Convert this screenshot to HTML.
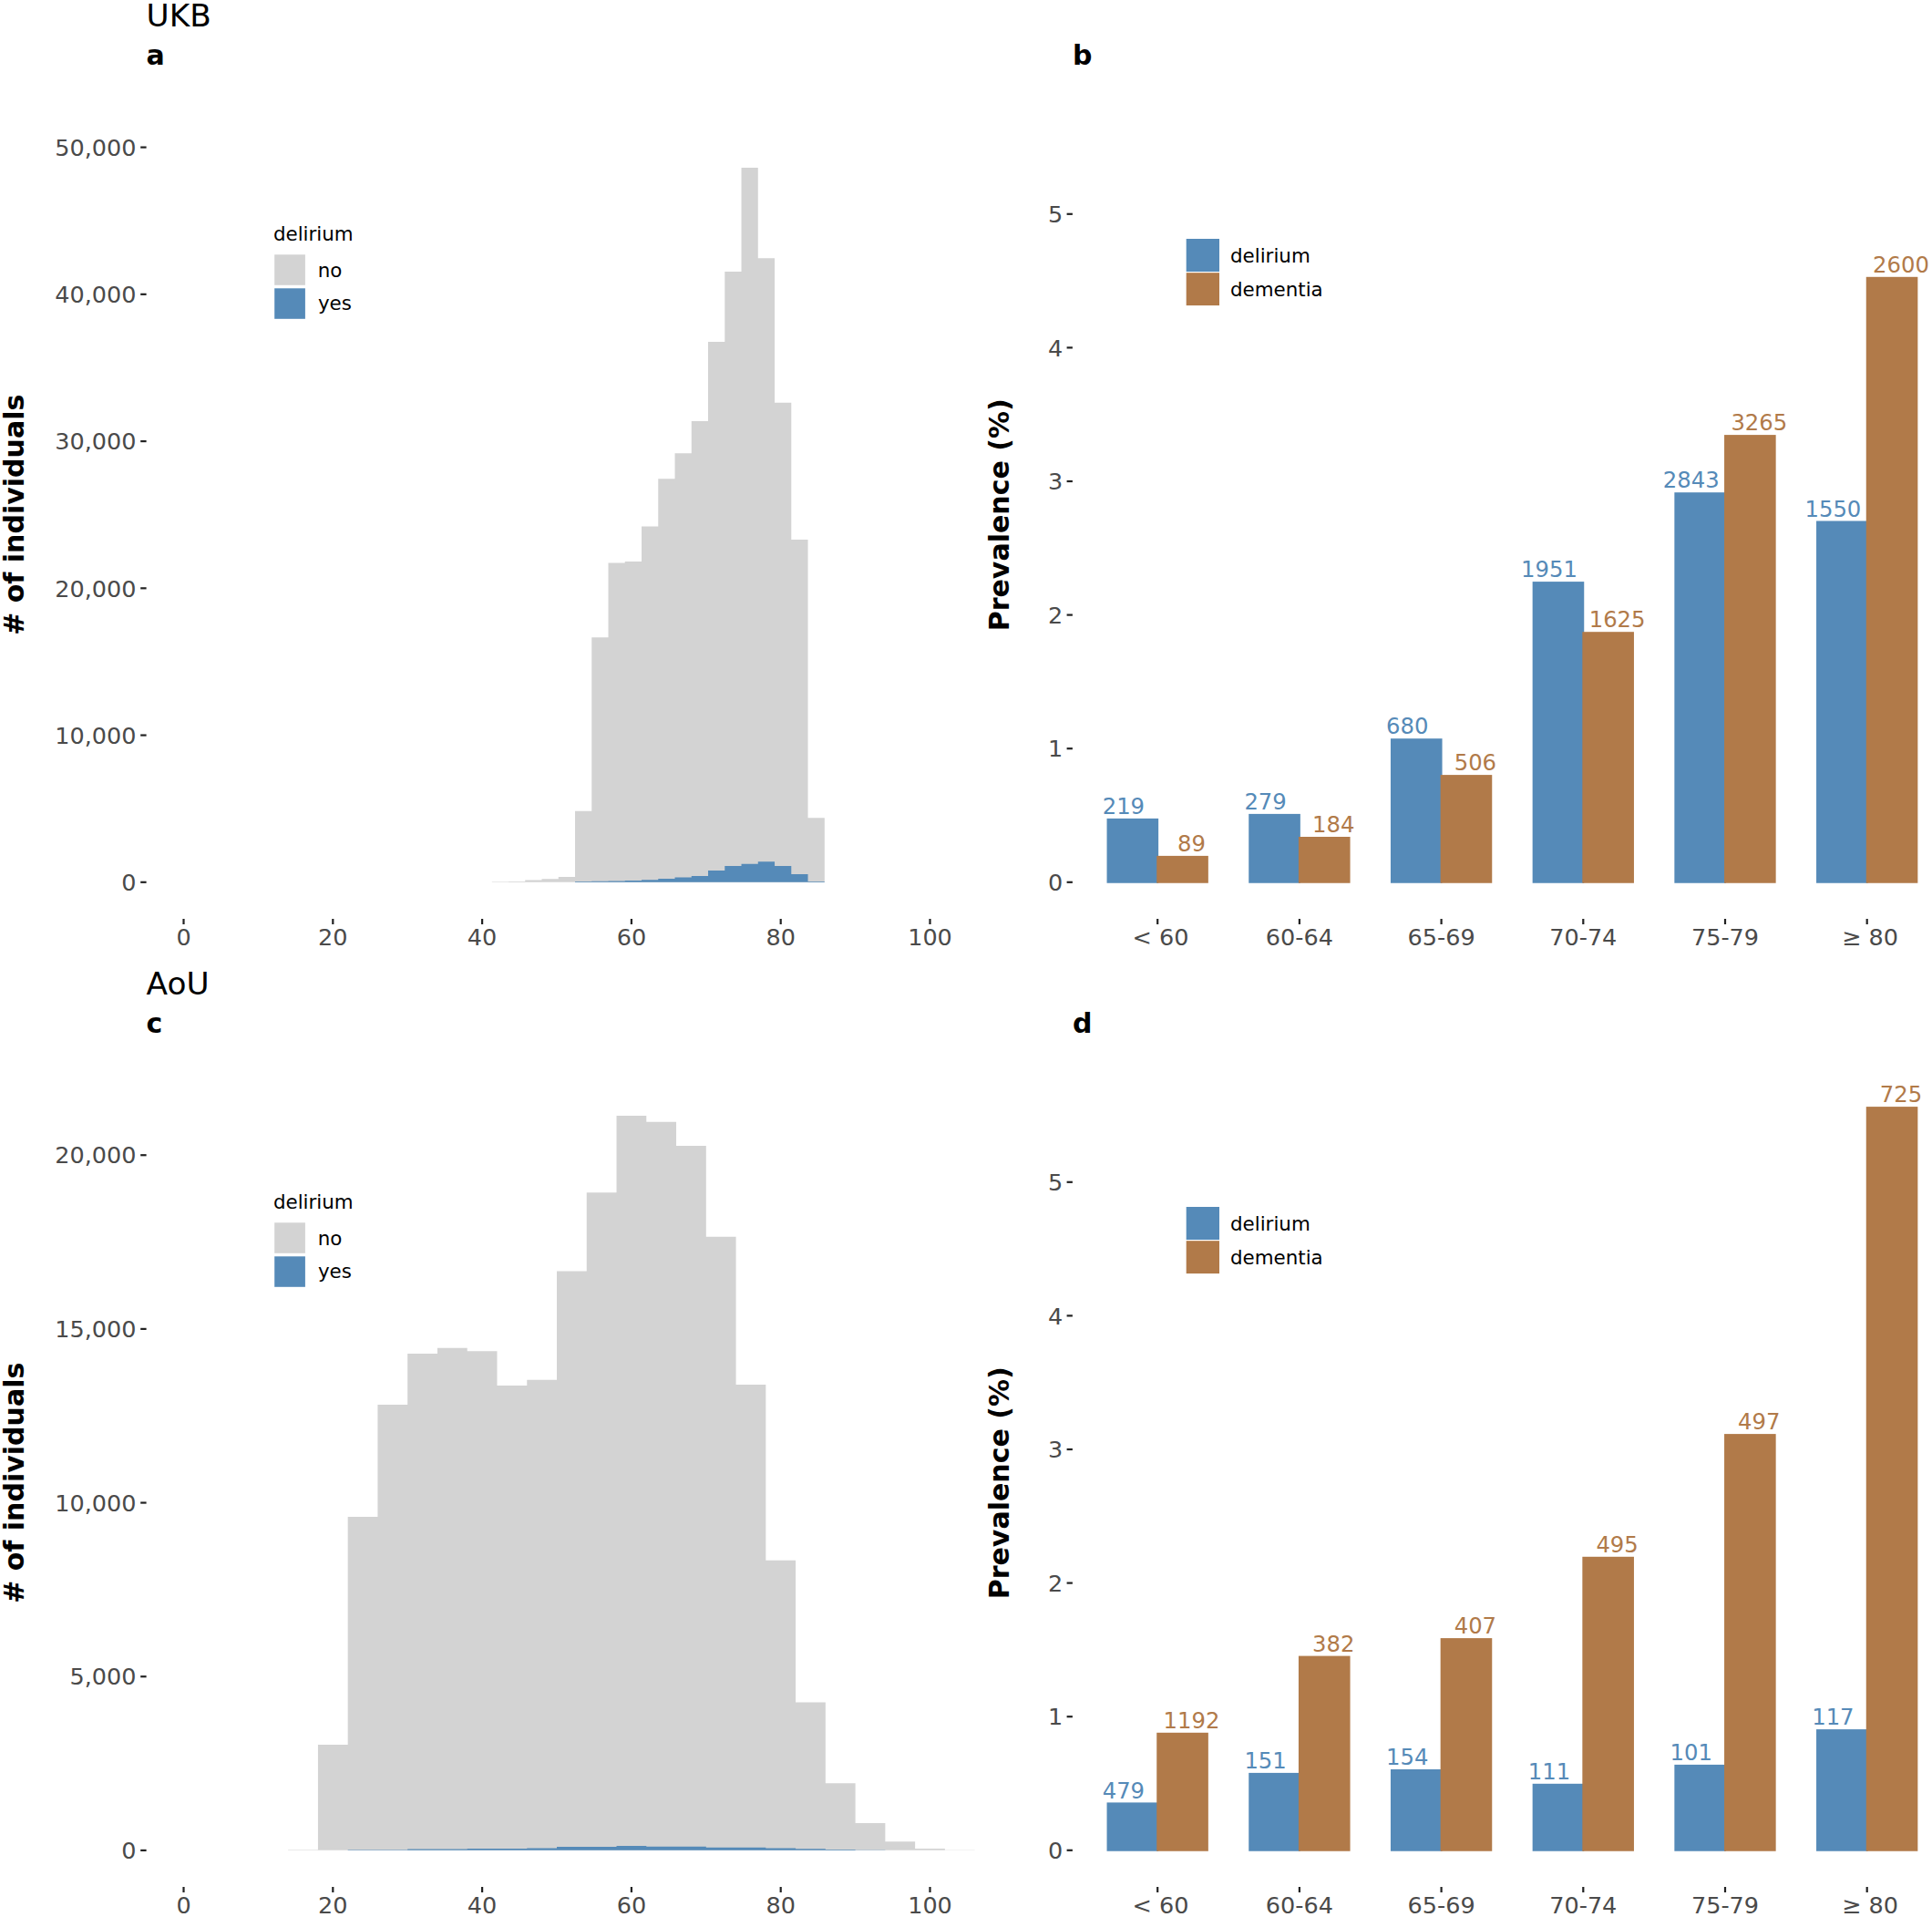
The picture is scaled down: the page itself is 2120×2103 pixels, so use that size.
<!DOCTYPE html>
<html lang="en"><head><meta charset="utf-8"><title>UKB / AoU delirium and dementia prevalence</title>
<style>
html,body{margin:0;padding:0;background:#fff}
body{width:2120px;height:2103px;overflow:hidden}
svg{display:block}
svg text{font-family:"DejaVu Sans","Liberation Sans",sans-serif;font-stretch:normal}
</style></head><body>
<svg width="2120" height="2103" viewBox="0 0 2120 2103">
<rect width="2120" height="2103" fill="#fff"/>
<text x="160.55" y="29.15" font-size="34.3" fill="#000">UKB</text>
<text x="160.4" y="70.5" font-size="30.0" font-weight="bold" fill="#000">a</text>
<text transform="translate(26.0 564.8) rotate(-90)" text-anchor="middle" font-size="30.0" font-weight="bold" fill="#000"># of individuals</text>
<line x1="154.2" x2="160.6" y1="967.8" y2="967.8" stroke="#222222" stroke-width="2.2"/>
<text x="149.5" y="977.05" text-anchor="end" font-size="25.5" fill="#4a4a4a">0</text>
<line x1="154.2" x2="160.6" y1="806.56" y2="806.56" stroke="#222222" stroke-width="2.2"/>
<text x="149.5" y="815.81" text-anchor="end" font-size="25.5" fill="#4a4a4a">10,000</text>
<line x1="154.2" x2="160.6" y1="645.32" y2="645.32" stroke="#222222" stroke-width="2.2"/>
<text x="149.5" y="654.57" text-anchor="end" font-size="25.5" fill="#4a4a4a">20,000</text>
<line x1="154.2" x2="160.6" y1="484.08" y2="484.08" stroke="#222222" stroke-width="2.2"/>
<text x="149.5" y="493.33" text-anchor="end" font-size="25.5" fill="#4a4a4a">30,000</text>
<line x1="154.2" x2="160.6" y1="322.84" y2="322.84" stroke="#222222" stroke-width="2.2"/>
<text x="149.5" y="332.09" text-anchor="end" font-size="25.5" fill="#4a4a4a">40,000</text>
<line x1="154.2" x2="160.6" y1="161.6" y2="161.6" stroke="#222222" stroke-width="2.2"/>
<text x="149.5" y="170.85" text-anchor="end" font-size="25.5" fill="#4a4a4a">50,000</text>
<line x1="201.5" x2="201.5" y1="1008" y2="1014" stroke="#222222" stroke-width="2.2"/>
<text x="201.5" y="1037" text-anchor="middle" font-size="25.5" fill="#4a4a4a">0</text>
<line x1="365.3" x2="365.3" y1="1008" y2="1014" stroke="#222222" stroke-width="2.2"/>
<text x="365.3" y="1037" text-anchor="middle" font-size="25.5" fill="#4a4a4a">20</text>
<line x1="529.1" x2="529.1" y1="1008" y2="1014" stroke="#222222" stroke-width="2.2"/>
<text x="529.1" y="1037" text-anchor="middle" font-size="25.5" fill="#4a4a4a">40</text>
<line x1="692.9" x2="692.9" y1="1008" y2="1014" stroke="#222222" stroke-width="2.2"/>
<text x="692.9" y="1037" text-anchor="middle" font-size="25.5" fill="#4a4a4a">60</text>
<line x1="856.7" x2="856.7" y1="1008" y2="1014" stroke="#222222" stroke-width="2.2"/>
<text x="856.7" y="1037" text-anchor="middle" font-size="25.5" fill="#4a4a4a">80</text>
<line x1="1020.5" x2="1020.5" y1="1008" y2="1014" stroke="#222222" stroke-width="2.2"/>
<text x="1020.5" y="1037" text-anchor="middle" font-size="25.5" fill="#4a4a4a">100</text>
<path d="M539.74 967.7 V967.2 H557.99 V966.9 H576.24 V965.6 H594.49 V964.2 H612.75 V962.1 H631 V889.7 H649.25 V699.3 H667.51 V617.5 H685.76 V616.1 H704.01 V577.6 H722.26 V525.3 H740.52 V497.3 H758.77 V462.1 H777.02 V375 H795.28 V298.1 H813.53 V183.9 H831.78 V283.2 H850.04 V441.7 H868.29 V591.9 H886.54 V897.2 H904.8 V967.7 Z" fill="#d3d3d3"/>
<path d="M631 967.7 V967.1 H649.25 V966.7 H667.51 V966.5 H685.76 V966.1 H704.01 V965.2 H722.26 V964 H740.52 V962.4 H758.77 V960.9 H777.02 V954.9 H795.28 V949.9 H813.53 V947.8 H831.78 V945.3 H850.04 V950.1 H868.29 V959.1 H886.54 V967 H904.8 V967.7 Z" fill="#558ab8"/>
<text x="299.95" y="263.55" font-size="21.4" fill="#000">delirium</text>
<rect x="301.2" y="279.3" width="33.7" height="33.5" fill="#d3d3d3"/>
<rect x="301.2" y="316.3" width="33.7" height="33.5" fill="#558ab8"/>
<text x="348.65" y="303.95" font-size="21.4" fill="#000">no</text>
<text x="348.9" y="340.1" font-size="21.4" fill="#000">yes</text>
<text x="160.55" y="1091.15" font-size="34.3" fill="#000">AoU</text>
<text x="160.4" y="1132.5" font-size="30.0" font-weight="bold" fill="#000">c</text>
<text transform="translate(26.0 1626.8) rotate(-90)" text-anchor="middle" font-size="30.0" font-weight="bold" fill="#000"># of individuals</text>
<line x1="154.2" x2="160.6" y1="2029.9" y2="2029.9" stroke="#222222" stroke-width="2.2"/>
<text x="149.5" y="2039.15" text-anchor="end" font-size="25.5" fill="#4a4a4a">0</text>
<line x1="154.2" x2="160.6" y1="1839.23" y2="1839.23" stroke="#222222" stroke-width="2.2"/>
<text x="149.5" y="1848.48" text-anchor="end" font-size="25.5" fill="#4a4a4a">5,000</text>
<line x1="154.2" x2="160.6" y1="1648.56" y2="1648.56" stroke="#222222" stroke-width="2.2"/>
<text x="149.5" y="1657.81" text-anchor="end" font-size="25.5" fill="#4a4a4a">10,000</text>
<line x1="154.2" x2="160.6" y1="1457.89" y2="1457.89" stroke="#222222" stroke-width="2.2"/>
<text x="149.5" y="1467.14" text-anchor="end" font-size="25.5" fill="#4a4a4a">15,000</text>
<line x1="154.2" x2="160.6" y1="1267.22" y2="1267.22" stroke="#222222" stroke-width="2.2"/>
<text x="149.5" y="1276.47" text-anchor="end" font-size="25.5" fill="#4a4a4a">20,000</text>
<line x1="201.5" x2="201.5" y1="2070" y2="2076" stroke="#222222" stroke-width="2.2"/>
<text x="201.5" y="2099" text-anchor="middle" font-size="25.5" fill="#4a4a4a">0</text>
<line x1="365.3" x2="365.3" y1="2070" y2="2076" stroke="#222222" stroke-width="2.2"/>
<text x="365.3" y="2099" text-anchor="middle" font-size="25.5" fill="#4a4a4a">20</text>
<line x1="529.1" x2="529.1" y1="2070" y2="2076" stroke="#222222" stroke-width="2.2"/>
<text x="529.1" y="2099" text-anchor="middle" font-size="25.5" fill="#4a4a4a">40</text>
<line x1="692.9" x2="692.9" y1="2070" y2="2076" stroke="#222222" stroke-width="2.2"/>
<text x="692.9" y="2099" text-anchor="middle" font-size="25.5" fill="#4a4a4a">60</text>
<line x1="856.7" x2="856.7" y1="2070" y2="2076" stroke="#222222" stroke-width="2.2"/>
<text x="856.7" y="2099" text-anchor="middle" font-size="25.5" fill="#4a4a4a">80</text>
<line x1="1020.5" x2="1020.5" y1="2070" y2="2076" stroke="#222222" stroke-width="2.2"/>
<text x="1020.5" y="2099" text-anchor="middle" font-size="25.5" fill="#4a4a4a">100</text>
<path d="M316.16 2029.75 V2029.3 H348.92 V1913.9 H381.68 V1664 H414.44 V1541 H447.2 V1485 H479.96 V1478.7 H512.72 V1482.2 H545.48 V1520 H578.24 V1513.8 H611 V1394.6 H643.76 V1308.2 H676.52 V1223.9 H709.28 V1230.7 H742.04 V1256.9 H774.8 V1356.7 H807.56 V1519.1 H840.32 V1711.8 H873.08 V1867.5 H905.84 V1956.2 H938.6 V2000 H971.36 V2020.2 H1004.12 V2028.1 H1036.88 V2029.4 H1069.64 V2029.75 Z" fill="#d3d3d3"/>
<path d="M381.68 2029.75 V2029.3 H414.44 V2029.3 H447.2 V2028.5 H479.96 V2028.5 H512.72 V2028.1 H545.48 V2028.1 H578.24 V2027.5 H611 V2026 H643.76 V2026 H676.52 V2025 H709.28 V2025.7 H742.04 V2025.7 H774.8 V2026.8 H807.56 V2026.8 H840.32 V2027.4 H873.08 V2028.3 H905.84 V2029 H938.6 V2029.4 H971.36 V2029.75 Z" fill="#558ab8"/>
<text x="299.95" y="1325.55" font-size="21.4" fill="#000">delirium</text>
<rect x="301.2" y="1341.3" width="33.7" height="33.5" fill="#d3d3d3"/>
<rect x="301.2" y="1378.3" width="33.7" height="33.5" fill="#558ab8"/>
<text x="348.65" y="1365.95" font-size="21.4" fill="#000">no</text>
<text x="348.9" y="1402.1" font-size="21.4" fill="#000">yes</text>
<text x="1176.95" y="70.5" font-size="30.0" font-weight="bold" fill="#000">b</text>
<text transform="translate(1106.8 564.8) rotate(-90)" text-anchor="middle" font-size="30.0" font-weight="bold" fill="#000">Prevalence (%)</text>
<line x1="1170.6" x2="1176.9" y1="967.8" y2="967.8" stroke="#222222" stroke-width="2.2"/>
<text x="1166.2" y="977.05" text-anchor="end" font-size="25.5" fill="#4a4a4a">0</text>
<line x1="1170.6" x2="1176.9" y1="821.2" y2="821.2" stroke="#222222" stroke-width="2.2"/>
<text x="1166.2" y="830.45" text-anchor="end" font-size="25.5" fill="#4a4a4a">1</text>
<line x1="1170.6" x2="1176.9" y1="674.6" y2="674.6" stroke="#222222" stroke-width="2.2"/>
<text x="1166.2" y="683.85" text-anchor="end" font-size="25.5" fill="#4a4a4a">2</text>
<line x1="1170.6" x2="1176.9" y1="528" y2="528" stroke="#222222" stroke-width="2.2"/>
<text x="1166.2" y="537.25" text-anchor="end" font-size="25.5" fill="#4a4a4a">3</text>
<line x1="1170.6" x2="1176.9" y1="381.4" y2="381.4" stroke="#222222" stroke-width="2.2"/>
<text x="1166.2" y="390.65" text-anchor="end" font-size="25.5" fill="#4a4a4a">4</text>
<line x1="1170.6" x2="1176.9" y1="234.8" y2="234.8" stroke="#222222" stroke-width="2.2"/>
<text x="1166.2" y="244.05" text-anchor="end" font-size="25.5" fill="#4a4a4a">5</text>
<line x1="1270.2" x2="1270.2" y1="1008" y2="1014" stroke="#222222" stroke-width="2.2"/>
<text x="1273.5" y="1037" text-anchor="middle" font-size="25.5" fill="#4a4a4a">&lt; 60</text>
<line x1="1425.9" x2="1425.9" y1="1008" y2="1014" stroke="#222222" stroke-width="2.2"/>
<text x="1425.9" y="1037" text-anchor="middle" font-size="25.5" fill="#4a4a4a">60-64</text>
<line x1="1581.6" x2="1581.6" y1="1008" y2="1014" stroke="#222222" stroke-width="2.2"/>
<text x="1581.6" y="1037" text-anchor="middle" font-size="25.5" fill="#4a4a4a">65-69</text>
<line x1="1737.3" x2="1737.3" y1="1008" y2="1014" stroke="#222222" stroke-width="2.2"/>
<text x="1737.3" y="1037" text-anchor="middle" font-size="25.5" fill="#4a4a4a">70-74</text>
<line x1="1893" x2="1893" y1="1008" y2="1014" stroke="#222222" stroke-width="2.2"/>
<text x="1893" y="1037" text-anchor="middle" font-size="25.5" fill="#4a4a4a">75-79</text>
<line x1="2048.7" x2="2048.7" y1="1008" y2="1014" stroke="#222222" stroke-width="2.2"/>
<text x="2052" y="1037" text-anchor="middle" font-size="25.5" fill="#4a4a4a">≥ 80</text>
<rect x="1214.55" y="897.9" width="56.6" height="70.85" fill="#558ab8"/>
<rect x="1269.25" y="938.9" width="56.6" height="29.85" fill="#b17a49"/>
<text x="1232.9" y="893.1" text-anchor="middle" font-size="24.3" fill="#558ab8">219</text>
<text x="1307.5" y="934.1" text-anchor="middle" font-size="24.3" fill="#b17a49">89</text>
<rect x="1370.25" y="892.9" width="56.6" height="75.85" fill="#558ab8"/>
<rect x="1424.95" y="918" width="56.6" height="50.75" fill="#b17a49"/>
<text x="1388.6" y="888.1" text-anchor="middle" font-size="24.3" fill="#558ab8">279</text>
<text x="1463.2" y="913.2" text-anchor="middle" font-size="24.3" fill="#b17a49">184</text>
<rect x="1525.95" y="810.2" width="56.6" height="158.55" fill="#558ab8"/>
<rect x="1580.65" y="850.1" width="56.6" height="118.65" fill="#b17a49"/>
<text x="1544.3" y="805.4" text-anchor="middle" font-size="24.3" fill="#558ab8">680</text>
<text x="1618.9" y="845.3" text-anchor="middle" font-size="24.3" fill="#b17a49">506</text>
<rect x="1681.65" y="638.1" width="56.6" height="330.65" fill="#558ab8"/>
<rect x="1736.35" y="693.2" width="56.6" height="275.55" fill="#b17a49"/>
<text x="1700" y="633.3" text-anchor="middle" font-size="24.3" fill="#558ab8">1951</text>
<text x="1774.6" y="688.4" text-anchor="middle" font-size="24.3" fill="#b17a49">1625</text>
<rect x="1837.35" y="540.2" width="56.6" height="428.55" fill="#558ab8"/>
<rect x="1892.05" y="477.1" width="56.6" height="491.65" fill="#b17a49"/>
<text x="1855.7" y="535.4" text-anchor="middle" font-size="24.3" fill="#558ab8">2843</text>
<text x="1930.3" y="472.3" text-anchor="middle" font-size="24.3" fill="#b17a49">3265</text>
<rect x="1993.05" y="571.5" width="56.6" height="397.25" fill="#558ab8"/>
<rect x="2047.75" y="303.8" width="56.6" height="664.95" fill="#b17a49"/>
<text x="2011.4" y="566.7" text-anchor="middle" font-size="24.3" fill="#558ab8">1550</text>
<text x="2086" y="299" text-anchor="middle" font-size="24.3" fill="#b17a49">2600</text>
<rect x="1301.7" y="262" width="36.3" height="36" fill="#558ab8"/>
<rect x="1301.7" y="299.2" width="36.3" height="35.9" fill="#b17a49"/>
<text x="1350" y="287.6" font-size="21.4" fill="#000">delirium</text>
<text x="1350" y="324.9" font-size="21.4" fill="#000">dementia</text>
<text x="1176.95" y="1132.5" font-size="30.0" font-weight="bold" fill="#000">d</text>
<text transform="translate(1106.8 1626.8) rotate(-90)" text-anchor="middle" font-size="30.0" font-weight="bold" fill="#000">Prevalence (%)</text>
<line x1="1170.6" x2="1176.9" y1="2029.8" y2="2029.8" stroke="#222222" stroke-width="2.2"/>
<text x="1166.2" y="2039.05" text-anchor="end" font-size="25.5" fill="#4a4a4a">0</text>
<line x1="1170.6" x2="1176.9" y1="1883.2" y2="1883.2" stroke="#222222" stroke-width="2.2"/>
<text x="1166.2" y="1892.45" text-anchor="end" font-size="25.5" fill="#4a4a4a">1</text>
<line x1="1170.6" x2="1176.9" y1="1736.6" y2="1736.6" stroke="#222222" stroke-width="2.2"/>
<text x="1166.2" y="1745.85" text-anchor="end" font-size="25.5" fill="#4a4a4a">2</text>
<line x1="1170.6" x2="1176.9" y1="1590" y2="1590" stroke="#222222" stroke-width="2.2"/>
<text x="1166.2" y="1599.25" text-anchor="end" font-size="25.5" fill="#4a4a4a">3</text>
<line x1="1170.6" x2="1176.9" y1="1443.4" y2="1443.4" stroke="#222222" stroke-width="2.2"/>
<text x="1166.2" y="1452.65" text-anchor="end" font-size="25.5" fill="#4a4a4a">4</text>
<line x1="1170.6" x2="1176.9" y1="1296.8" y2="1296.8" stroke="#222222" stroke-width="2.2"/>
<text x="1166.2" y="1306.05" text-anchor="end" font-size="25.5" fill="#4a4a4a">5</text>
<line x1="1270.2" x2="1270.2" y1="2070" y2="2076" stroke="#222222" stroke-width="2.2"/>
<text x="1273.5" y="2099" text-anchor="middle" font-size="25.5" fill="#4a4a4a">&lt; 60</text>
<line x1="1425.9" x2="1425.9" y1="2070" y2="2076" stroke="#222222" stroke-width="2.2"/>
<text x="1425.9" y="2099" text-anchor="middle" font-size="25.5" fill="#4a4a4a">60-64</text>
<line x1="1581.6" x2="1581.6" y1="2070" y2="2076" stroke="#222222" stroke-width="2.2"/>
<text x="1581.6" y="2099" text-anchor="middle" font-size="25.5" fill="#4a4a4a">65-69</text>
<line x1="1737.3" x2="1737.3" y1="2070" y2="2076" stroke="#222222" stroke-width="2.2"/>
<text x="1737.3" y="2099" text-anchor="middle" font-size="25.5" fill="#4a4a4a">70-74</text>
<line x1="1893" x2="1893" y1="2070" y2="2076" stroke="#222222" stroke-width="2.2"/>
<text x="1893" y="2099" text-anchor="middle" font-size="25.5" fill="#4a4a4a">75-79</text>
<line x1="2048.7" x2="2048.7" y1="2070" y2="2076" stroke="#222222" stroke-width="2.2"/>
<text x="2052" y="2099" text-anchor="middle" font-size="25.5" fill="#4a4a4a">≥ 80</text>
<rect x="1214.55" y="1977.4" width="56.6" height="53.35" fill="#558ab8"/>
<rect x="1269.25" y="1900.8" width="56.6" height="129.95" fill="#b17a49"/>
<text x="1232.9" y="1972.6" text-anchor="middle" font-size="24.3" fill="#558ab8">479</text>
<text x="1307.5" y="1896" text-anchor="middle" font-size="24.3" fill="#b17a49">1192</text>
<rect x="1370.25" y="1944.9" width="56.6" height="85.85" fill="#558ab8"/>
<rect x="1424.95" y="1816.6" width="56.6" height="214.15" fill="#b17a49"/>
<text x="1388.6" y="1940.1" text-anchor="middle" font-size="24.3" fill="#558ab8">151</text>
<text x="1463.2" y="1811.8" text-anchor="middle" font-size="24.3" fill="#b17a49">382</text>
<rect x="1525.95" y="1941" width="56.6" height="89.75" fill="#558ab8"/>
<rect x="1580.65" y="1797.1" width="56.6" height="233.65" fill="#b17a49"/>
<text x="1544.3" y="1936.2" text-anchor="middle" font-size="24.3" fill="#558ab8">154</text>
<text x="1618.9" y="1792.3" text-anchor="middle" font-size="24.3" fill="#b17a49">407</text>
<rect x="1681.65" y="1956.8" width="56.6" height="73.95" fill="#558ab8"/>
<rect x="1736.35" y="1707.8" width="56.6" height="322.95" fill="#b17a49"/>
<text x="1700" y="1952" text-anchor="middle" font-size="24.3" fill="#558ab8">111</text>
<text x="1774.6" y="1703" text-anchor="middle" font-size="24.3" fill="#b17a49">495</text>
<rect x="1837.35" y="1935.9" width="56.6" height="94.85" fill="#558ab8"/>
<rect x="1892.05" y="1573.1" width="56.6" height="457.65" fill="#b17a49"/>
<text x="1855.7" y="1931.1" text-anchor="middle" font-size="24.3" fill="#558ab8">101</text>
<text x="1930.3" y="1568.3" text-anchor="middle" font-size="24.3" fill="#b17a49">497</text>
<rect x="1993.05" y="1897.1" width="56.6" height="133.65" fill="#558ab8"/>
<rect x="2047.75" y="1214.1" width="56.6" height="816.65" fill="#b17a49"/>
<text x="2011.4" y="1892.3" text-anchor="middle" font-size="24.3" fill="#558ab8">117</text>
<text x="2086" y="1209.3" text-anchor="middle" font-size="24.3" fill="#b17a49">725</text>
<rect x="1301.7" y="1324" width="36.3" height="36" fill="#558ab8"/>
<rect x="1301.7" y="1361.2" width="36.3" height="35.9" fill="#b17a49"/>
<text x="1350" y="1349.6" font-size="21.4" fill="#000">delirium</text>
<text x="1350" y="1386.9" font-size="21.4" fill="#000">dementia</text>
</svg>
</body></html>
